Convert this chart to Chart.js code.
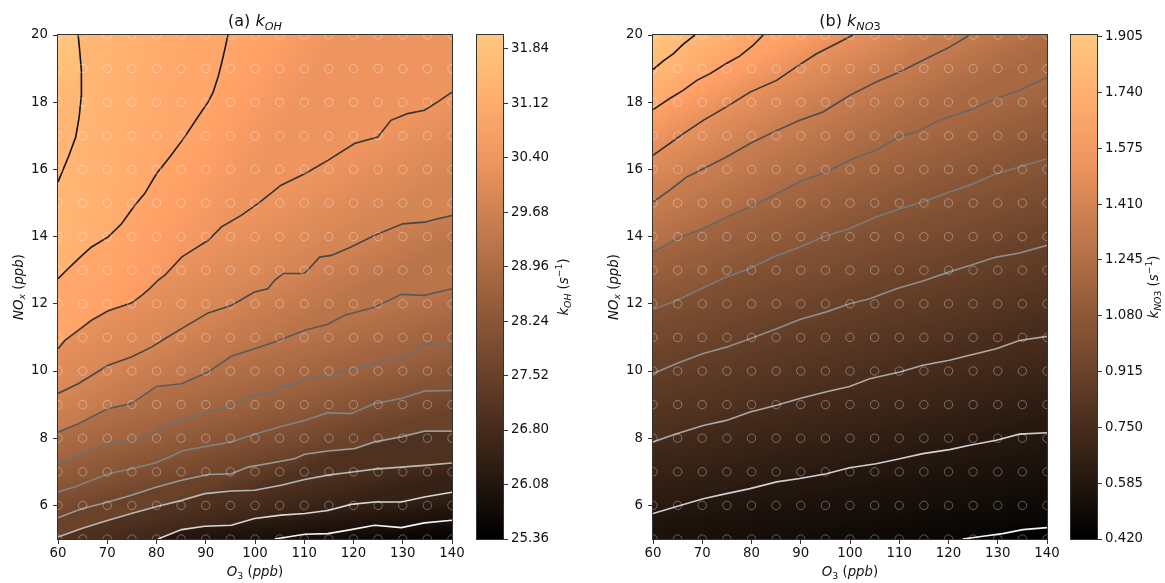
<!DOCTYPE html>
<html>
<head>
<meta charset="utf-8">
<script src="https://cdn.jsdelivr.net/npm/chart.js"></script>
<style>
  html, body { margin: 0; padding: 0; background: #fff; }
  #wrap { position: relative; width: 1165px; height: 583px; overflow: hidden; }
  #wrap canvas { position: absolute; top: 0; }
</style>
</head>
<body>
<div id="wrap">
  <canvas id="chartA" width="475" height="583" style="left:0"></canvas>
  <canvas id="cbarA" width="100" height="583" style="left:475px"></canvas>
  <canvas id="chartB" width="475" height="583" style="left:595px"></canvas>
  <canvas id="cbarB" width="96" height="583" style="left:1069px"></canvas>
</div>
<script>
// axes
const O3_MIN = 60, O3_MAX = 140, NOX_MIN = 5, NOX_MAX = 20;
const o3Ticks = [60, 70, 80, 90, 100, 110, 120, 130, 140];
const noxTicks = [6, 8, 10, 12, 14, 16, 18, 20];

// grid of simulated points (open circles)
const gridO3 = [60, 65, 70, 75, 80, 85, 90, 95, 100, 105, 110, 115, 120, 125, 130, 135, 140];
const gridNOx = [5, 6, 7, 8, 9, 10, 11, 12, 13, 14, 15, 16, 17, 18, 19, 20];

// (a) k_OH : colour range, colorbar ticks, contour levels
const ohRange = [25.36, 32.02];
const ohCbarTicks = [25.36, 26.08, 26.80, 27.52, 28.24, 28.96, 29.68, 30.40, 31.12, 31.84];
const ohLevels = [31.45, 30.90, 30.34, 29.79, 29.23, 28.68, 28.12, 27.57, 27.01, 26.46, 25.90];

// contour lines of k_OH, [O3, NOx] pairs, top-left line first
const ohC1 = [[60,15.63],[62.1,16.37],[63.6,16.96],[64.3,17.56],[64.7,18.15],[64.8,18.45],[64.7,18.95],[64.4,19.54],[64.1,20]];
const ohC2 = [[60,12.75],[62.1,13.05],[64.5,13.39],[66.8,13.69],[70.2,13.99],[72.9,14.38],[75.6,14.93],[77.6,15.28],[80,15.87],[82.7,16.37],[85.7,16.96],[88.4,17.56],[90.5,18.01],[91.5,18.3],[92.5,18.75],[93.2,19.15],[93.9,19.59],[94.5,20]];
const ohC3 = [[60,10.66],[61.4,10.91],[64.1,11.21],[66.8,11.51],[70.2,11.79],[74.9,12.02],[77,12.25],[78.6,12.45],[80.3,12.7],[81.7,12.85],[85.1,13.39],[87.8,13.64],[90.5,13.89],[93.2,14.29],[97.2,14.63],[100.6,14.98],[105.3,15.53],[110.1,15.87],[114.8,16.27],[120.2,16.77],[124.9,16.96],[127.6,17.46],[131,17.66],[134.4,17.76],[137.1,18.01],[140,18.3]];
const ohC4 = [[60,9.33],[64.1,9.62],[70.2,10.17],[74.9,10.42],[79,10.71],[81.7,10.96],[85.1,11.26],[90.5,11.73],[95.2,11.95],[99.9,12.35],[102.6,12.45],[104,12.7],[105.7,12.9],[110.1,12.9],[113.1,13.39],[115.5,13.44],[119.5,13.69],[124.3,14.04],[130,14.38],[134.4,14.43],[137.1,14.53],[140,14.63]];
const ohC5 = [[60,8.18],[64.1,8.43],[70.2,8.88],[74.9,9.03],[80,9.54],[85.1,9.62],[90.5,9.97],[95.2,10.44],[99.9,10.66],[104,10.86],[110.1,11.21],[114.8,11.39],[118.2,11.66],[124.3,11.9],[129.7,12.28],[134.4,12.25],[140,12.45]];
const ohC6 = [[60,7.26],[63.4,7.44],[70.2,7.84],[74.9,7.91],[79.7,8.18],[82.7,8.45],[85.1,8.53],[90.5,8.78],[95.2,8.98],[99.9,9.28],[103.3,9.33],[105.3,9.52],[108,9.62],[110.1,9.75],[114.8,9.87],[118.9,10.02],[124.3,10.22],[128.3,10.37],[131,10.47],[134.4,10.79],[140,10.81]];
const ohC7 = [[60,6.4],[63.4,6.55],[66.8,6.75],[70.2,6.94],[74.9,7.09],[79.7,7.26],[82.7,7.44],[85.1,7.62],[90.5,7.77],[95.2,7.89],[99.9,8.12],[105.3,8.35],[110.1,8.53],[114.8,8.76],[119.5,8.73],[124.3,9.03],[129.7,9.18],[134.4,9.4],[140,9.42]];
const ohC8 = [[60,5.63],[64.8,5.9],[70.2,6.1],[74.9,6.3],[79.7,6.53],[85.1,6.75],[90.5,6.92],[95.2,6.94],[98.6,7.14],[103.3,7.26],[108,7.39],[110.1,7.52],[114.8,7.62],[120.2,7.69],[124.3,7.89],[129.7,8.04],[134.4,8.21],[140,8.21]];
const ohC9 = [[60,5.06],[64.8,5.31],[70.2,5.56],[74.9,5.76],[79.7,5.95],[85.1,6.15],[89.8,6.35],[95.2,6.43],[99.9,6.45],[105.3,6.6],[110.1,6.77],[114.8,6.9],[120.2,7],[124.3,7.08],[129.7,7.14],[134.4,7.19],[140,7.26]];
const ohC10 = [[80.3,5],[85.1,5.28],[89.8,5.38],[95.2,5.41],[99.9,5.61],[105.3,5.71],[110.1,5.76],[114.8,5.85],[119.5,6.03],[124.3,6.1],[129.7,6.1],[134.4,6.25],[140,6.39]];
const ohC11 = [[104,5],[110.1,5.14],[114.8,5.16],[119.5,5.28],[124.3,5.41],[129.7,5.34],[134.4,5.48],[140,5.56]];

// (b) k_NO3
const no3Range = [0.42, 1.91];
const no3CbarTicks = [0.420, 0.585, 0.750, 0.915, 1.080, 1.245, 1.410, 1.575, 1.740, 1.905];
const no3Levels = [1.80, 1.65, 1.50, 1.35, 1.20, 1.05, 0.90, 0.75, 0.60, 0.45];

const no3C1 = [[60,18.97],[62.1,19.23],[64.1,19.44],[66.1,19.72],[68.5,20]];
const no3C2 = [[60,17.78],[63.4,18.11],[66.1,18.35],[68.9,18.65],[71.6,18.85],[74.9,19.15],[77.6,19.37],[80.3,19.69],[82.4,20]];
const no3C3 = [[60,16.42],[63.4,16.77],[66.1,17.06],[70.2,17.46],[74.9,17.86],[79.7,18.3],[85.1,18.65],[89.1,19.05],[93.2,19.44],[97.2,19.74],[100.6,20]];
const no3C4 = [[60,15.03],[63.4,15.38],[66.8,15.77],[70.2,16.02],[74.9,16.37],[79.7,16.77],[84.4,17.11],[89.8,17.46],[94.5,17.71],[99.9,18.2],[105.3,18.6],[110.1,18.9],[114.8,19.25],[120.2,19.64],[124.3,20]];
const no3C5 = [[60,13.54],[64.8,13.94],[70.2,14.24],[74.9,14.58],[79.7,14.88],[85.1,15.28],[89.8,15.63],[95.2,15.92],[99.9,16.27],[105.3,16.57],[110.1,16.98],[113.4,17.11],[118.2,17.46],[124.3,17.76],[129.7,18.11],[134.4,18.35],[140,18.75]];
const no3C6 = [[60,11.83],[64.8,12.1],[70.2,12.48],[74.9,12.8],[79.7,13.05],[84.4,13.39],[89.8,13.69],[94.5,13.99],[99.9,14.24],[105.3,14.58],[110.1,14.83],[114.8,15.03],[120.2,15.33],[124.3,15.53],[129.7,15.87],[134.4,16.07],[140,16.32]];
const no3C7 = [[60,9.92],[64.8,10.22],[70.2,10.52],[74.9,10.71],[79.7,10.96],[85.1,11.26],[89.8,11.53],[95.2,11.76],[99.9,12],[104,12.15],[109.4,12.45],[114.8,12.68],[120.2,12.95],[124.3,13.14],[129.7,13.39],[134.4,13.51],[140,13.74]];
const no3C8 = [[60,7.89],[64.8,8.13],[70.2,8.38],[74.9,8.53],[79.7,8.78],[85.1,8.98],[89.8,9.18],[95.2,9.38],[99.9,9.54],[104,9.77],[110.1,9.97],[114.8,10.17],[120.2,10.32],[124.3,10.47],[129.7,10.66],[134.4,10.91],[140,11.03]];
const no3C9 = [[60,5.76],[64.8,5.97],[70.2,6.2],[74.9,6.35],[79.7,6.5],[85.1,6.7],[89.8,6.8],[95.2,6.94],[99.9,7.12],[105.3,7.24],[110.1,7.39],[114.8,7.54],[120.2,7.66],[124.3,7.79],[129.7,7.94],[134.4,8.12],[140,8.16]];
const no3C10 = [[122.9,5],[127,5.08],[131,5.16],[135.1,5.28],[140,5.34]];

// line colours (grey, dark for high levels, light for low ones)
const ohLineColors = ['#111111','#1c1c1c','#333333','#474747','#5a5a5a','#6e6e6e','#828282','#9a9a9a','#b8b8b8','#d8d8d8','#f4f4f4'];
const no3LineColors = ['#111111','#222222','#353535','#4d4d4d','#666666','#7a7a7a','#8e8e8e','#aaaaaa','#d0d0d0','#f4f4f4'];

Chart.defaults.font.family = '"DejaVu Sans", sans-serif';
Chart.defaults.color = '#111';
const TICK_FONT = { family: '"DejaVu Sans", sans-serif', size: 13.3 };
const AXIS_COLOR = '#333';

// copper colormap
function copperCss(t) {
  t = Math.max(0, Math.min(1, t));
  const r = Math.round(255 * Math.min(1, 1.25 * t));
  const g = Math.round(255 * 0.7812 * t);
  const b = Math.round(255 * 0.4975 * t);
  return 'rgb(' + r + ',' + g + ',' + b + ')';
}
function addStops(grad, t0, t1) {
  const n = 8;
  for (let i = 0; i <= n; i++) {
    grad.addColorStop(i / n, copperCss(t0 + (t1 - t0) * i / n));
  }
}
function nearestOnPolyline(p, pts) {
  let best = pts[0], bd = Infinity;
  for (let i = 0; i < pts.length - 1; i++) {
    const a = pts[i], b = pts[i + 1];
    const dx = b.x - a.x, dy = b.y - a.y, L = dx * dx + dy * dy;
    let t = L ? ((p.x - a.x) * dx + (p.y - a.y) * dy) / L : 0;
    t = Math.max(0, Math.min(1, t));
    const q = { x: a.x + t * dx, y: a.y + t * dy };
    const d = (q.x - p.x) ** 2 + (q.y - p.y) ** 2;
    if (d < bd) { bd = d; best = q; }
  }
  return best;
}

// text with italic / sub / superscript runs
function drawRich(ctx, runs, x, y, size, rotate) {
  const pieces = runs.map(r => {
    const s = (r.sub || r.sup) ? size * 0.7 : size;
    const font = (r.i ? 'italic ' : '') + s + 'px "DejaVu Sans"';
    ctx.font = font;
    return { text: r.t, font, w: ctx.measureText(r.t).width, dy: r.sub ? size * 0.22 : (r.sup ? -size * 0.42 : 0) };
  });
  const total = pieces.reduce((a, p) => a + p.w, 0);
  ctx.save();
  ctx.translate(x, y);
  if (rotate) ctx.rotate(-Math.PI / 2);
  ctx.fillStyle = '#111';
  ctx.textBaseline = 'alphabetic';
  ctx.textAlign = 'left';
  let cx = -total / 2;
  for (const p of pieces) {
    ctx.font = p.font;
    ctx.fillText(p.text, cx, p.dy);
    cx += p.w;
  }
  ctx.restore();
}

const framePlugin = {
  id: 'frame',
  afterDatasetsDraw(chart) {
    const a = chart.chartArea, ctx = chart.ctx;
    ctx.save();
    ctx.strokeStyle = AXIS_COLOR;
    ctx.lineWidth = 1;
    ctx.strokeRect(a.left - 0.5, a.top - 0.5, a.width + 1, a.height + 1);
    ctx.restore();
  }
};
function textPlugin(items) {
  return {
    id: 'richText',
    afterDraw(chart) {
      items.forEach(it => drawRich(chart.ctx, it.runs, it.x, it.y, it.size, it.rotate));
    }
  };
}

function makePanel(id, lines, levels, colors, range, texts) {
  const [vmin, vmax] = range;
  const norm = v => (v - vmin) / (vmax - vmin);
  const toPx = (chart, p) => ({ x: chart.scales.x.getPixelForValue(p[0]), y: chart.scales.y.getPixelForValue(p[1]) });

  // fill above line k: shaded from level k to the next level up
  function bandFill(c, k) {
    const chart = c.chart;
    if (!chart.chartArea || !chart.scales.x) return copperCss(norm(levels[k]));
    const own = lines[k];
    const p0 = toPx(chart, own[Math.floor(own.length / 2)]);
    let p1, hi;
    if (k === 0) { p1 = toPx(chart, [O3_MIN, NOX_MAX]); hi = vmax; }
    else { p1 = nearestOnPolyline(p0, lines[k - 1].map(p => toPx(chart, p))); hi = levels[k - 1]; }
    if (Math.hypot(p1.x - p0.x, p1.y - p0.y) < 1) return copperCss(norm((levels[k] + hi) / 2));
    const g = chart.ctx.createLinearGradient(p0.x, p0.y, p1.x, p1.y);
    addStops(g, norm(levels[k]), norm(hi));
    return g;
  }

  // filled areas (no stroke); a line that starts on the bottom axis closes its area along that axis
  const fillSets = lines.map((pts, k) => {
    const anchored = pts[0][1] <= NOX_MIN && pts[0][0] > O3_MIN;
    const data = (anchored ? [[O3_MIN, NOX_MIN]] : []).concat(pts).map(([x, y]) => ({ x, y }));
    return {
      data,
      borderColor: 'rgba(0,0,0,0)',
      borderWidth: 0,
      pointRadius: 0,
      pointHoverRadius: 0,
      tension: 0,
      fill: 'end',
      backgroundColor: c => bandFill(c, k)
    };
  });
  // contour lines
  const lineSets = lines.map((pts, k) => ({
    data: pts.map(([x, y]) => ({ x, y })),
    borderColor: colors[k],
    borderWidth: 1.6,
    pointRadius: 0,
    pointHoverRadius: 0,
    tension: 0,
    fill: false
  }));

  const circles = [];
  gridNOx.forEach(y => gridO3.forEach(x => circles.push({ x, y })));

  const basePlugin = {
    id: 'fieldBase',
    beforeDraw(chart) {
      const a = chart.chartArea, ctx = chart.ctx;
      const last = lines[lines.length - 1];
      const p0 = toPx(chart, [O3_MAX, NOX_MIN]);
      const p1 = nearestOnPolyline(p0, last.map(p => toPx(chart, p)));
      const g = ctx.createLinearGradient(p0.x, p0.y, p1.x, p1.y);
      addStops(g, 0, norm(levels[levels.length - 1]));
      ctx.save();
      ctx.fillStyle = g;
      ctx.fillRect(a.left, a.top, a.width, a.height);
      ctx.restore();
    }
  };

  new Chart(document.getElementById(id), {
    type: 'line',
    data: {
      datasets: [{
        data: circles,
        showLine: false,
        pointRadius: 4.2,
        pointHoverRadius: 4.2,
        pointBorderWidth: 1,
        pointBorderColor: 'rgba(255,255,255,0.32)',
        pointBackgroundColor: 'rgba(0,0,0,0)',
        fill: false,
        clip: 0
      }].concat(lineSets, fillSets)
    },
    options: {
      responsive: false,
      animation: false,
      events: [],
      layout: { padding: { top: 35, right: 23, bottom: 0, left: 0 } },
      plugins: { legend: { display: false }, tooltip: { enabled: false }, filler: { drawTime: 'beforeDatasetsDraw' } },
      scales: {
        x: {
          type: 'linear', min: O3_MIN, max: O3_MAX,
          afterBuildTicks: s => { s.ticks = o3Ticks.map(v => ({ value: v })); },
          afterFit: s => { s.height = 44; },
          grid: { drawOnChartArea: false, drawTicks: true, tickLength: 5, color: AXIS_COLOR },
          border: { display: false },
          ticks: { font: TICK_FONT, color: '#111', padding: 2, maxRotation: 0, autoSkip: false }
        },
        y: {
          type: 'linear', min: NOX_MIN, max: NOX_MAX,
          afterBuildTicks: s => { s.ticks = noxTicks.map(v => ({ value: v })); },
          afterFit: s => { s.width = 58; },
          grid: { drawOnChartArea: false, drawTicks: true, tickLength: 5, color: AXIS_COLOR },
          border: { display: false },
          ticks: { font: TICK_FONT, color: '#111', padding: 5, autoSkip: false }
        }
      }
    },
    plugins: [basePlugin, framePlugin, textPlugin(texts)]
  });
}

function makeColorbar(id, width, range, ticks, decimals, labelRuns, labelX) {
  const [vmin, vmax] = range;
  new Chart(document.getElementById(id), {
    type: 'bar',
    data: {
      labels: [''],
      datasets: [{
        data: [[vmin, vmax]],
        backgroundColor: c => {
          const a = c.chart.chartArea;
          if (!a) return copperCss(0.5);
          const g = c.chart.ctx.createLinearGradient(0, a.bottom, 0, a.top);
          addStops(g, 0, 1);
          return g;
        },
        borderWidth: 0,
        barPercentage: 1,
        categoryPercentage: 1
      }]
    },
    options: {
      responsive: false,
      animation: false,
      events: [],
      layout: { padding: { top: 35, right: 0, bottom: 44, left: 2 } },
      plugins: { legend: { display: false }, tooltip: { enabled: false } },
      scales: {
        x: { display: false },
        y: {
          position: 'right', min: vmin, max: vmax,
          afterBuildTicks: s => { s.ticks = ticks.map(v => ({ value: v })); },
          afterFit: s => { s.width = width - 28; },
          grid: { drawOnChartArea: false, drawTicks: true, tickLength: 5, color: AXIS_COLOR },
          border: { display: false },
          ticks: { font: TICK_FONT, color: '#111', padding: 3, autoSkip: false, callback: v => Number(v).toFixed(decimals) }
        }
      }
    },
    plugins: [framePlugin, textPlugin([{ runs: labelRuns, x: labelX, y: 287, size: 13.3, rotate: true }])]
  });
}

const ppb = [{ t: ' (' }, { t: 'ppb', i: 1 }, { t: ')' }];
const xLabel = [{ t: 'O', i: 1 }, { t: '3', sub: 1 }].concat(ppb);
const yLabel = [{ t: 'NO', i: 1 }, { t: 'x', i: 1, sub: 1 }].concat(ppb);
const perSec = [{ t: ' (' }, { t: 's', i: 1 }, { t: '\u22121', sup: 1 }, { t: ')' }];

makePanel('chartA',
  [ohC1, ohC2, ohC3, ohC4, ohC5, ohC6, ohC7, ohC8, ohC9, ohC10, ohC11],
  ohLevels, ohLineColors, ohRange,
  [
    { runs: [{ t: '(a) ' }, { t: 'k', i: 1 }, { t: 'OH', i: 1, sub: 1 }], x: 255, y: 26, size: 16 },
    { runs: xLabel, x: 255, y: 576, size: 13.3 },
    { runs: yLabel, x: 22.5, y: 287, size: 13.3, rotate: true }
  ]);

makePanel('chartB',
  [no3C1, no3C2, no3C3, no3C4, no3C5, no3C6, no3C7, no3C8, no3C9, no3C10],
  no3Levels, no3LineColors, no3Range,
  [
    { runs: [{ t: '(b) ' }, { t: 'k', i: 1 }, { t: 'NO', i: 1, sub: 1 }, { t: '3', sub: 1 }], x: 255, y: 26, size: 16 },
    { runs: xLabel, x: 255, y: 576, size: 13.3 },
    { runs: yLabel, x: 22.5, y: 287, size: 13.3, rotate: true }
  ]);

makeColorbar('cbarA', 100, ohRange, ohCbarTicks, 2,
  [{ t: 'k', i: 1 }, { t: 'OH', i: 1, sub: 1 }].concat(perSec), 93);
makeColorbar('cbarB', 96, no3Range, no3CbarTicks, 3,
  [{ t: 'k', i: 1 }, { t: 'NO', i: 1, sub: 1 }, { t: '3', sub: 1 }].concat(perSec), 89);
</script>
</body>
</html>
